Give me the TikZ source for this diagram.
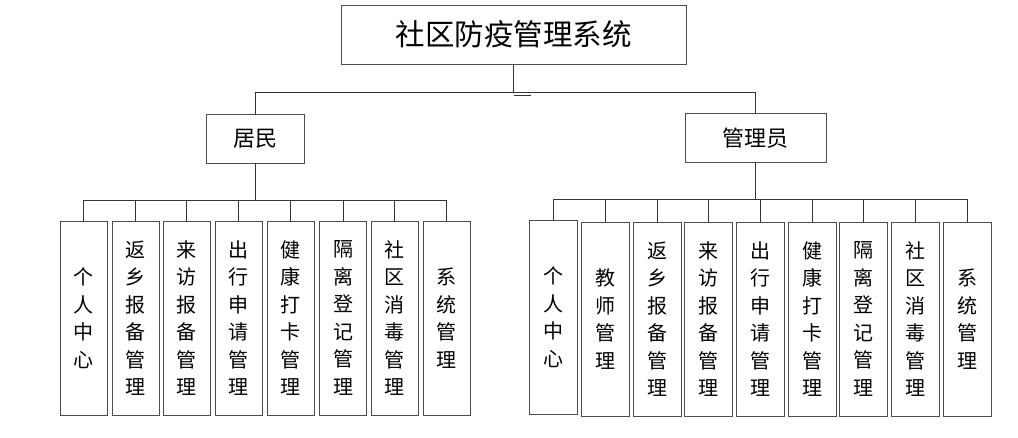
\documentclass[tikz,border=0pt]{standalone}
\usepackage{fontspec}
\newfontfamily\cjk{Noto Sans CJK SC}
\begin{document}
\begin{tikzpicture}[x=1pt,y=-1pt,
  box/.style={draw=black!70,line width=0.9pt,fill=white,inner sep=0pt,align=center,text=black},
  leaf/.style={box,minimum width=47pt,minimum height=194pt,font=\cjk\fontsize{20}{27.5}\selectfont},
  mid/.style={box,minimum height=49pt,font=\cjk\fontsize{22}{24}\selectfont},
  wire/.style={draw=black!80,line width=0.8pt}]
\useasboundingbox (0,0) rectangle (1018,438);
% root
\node[box,minimum width=345pt,minimum height=59pt,font=\cjk\fontsize{29.5}{32}\selectfont] (root) at (513.5,34.5) {社区防疫管理系统};
\node[mid,minimum width=98pt] (res) at (255,138.5) {居民};
\node[mid,minimum width=141pt] (adm) at (755.5,138) {管理员};
\coordinate (bus0) at (0,92);
\coordinate (busL) at (0,200);
\coordinate (busR) at (0,199);
% left leaves
\node[leaf] (l1) at (83.5,318) {个\\人\\中\\心};
\node[leaf] (l2) at (135.5,318) {返\\乡\\报\\备\\管\\理};
\node[leaf] (l3) at (186.5,318) {来\\访\\报\\备\\管\\理};
\node[leaf] (l4) at (238.5,318) {出\\行\\申\\请\\管\\理};
\node[leaf] (l5) at (290.5,318) {健\\康\\打\\卡\\管\\理};
\node[leaf] (l6) at (343,318) {隔\\离\\登\\记\\管\\理};
\node[leaf] (l7) at (394.5,318) {社\\区\\消\\毒\\管\\理};
\node[leaf] (l8) at (446.5,318) {系\\统\\管\\理};
% right leaves
\node[leaf,minimum width=48pt] (r1) at (553,317) {个\\人\\中\\心};
\node[leaf,minimum width=48pt] (r2) at (605,319) {教\\师\\管\\理};
\node[leaf,minimum width=48pt] (r3) at (657,319) {返\\乡\\报\\备\\管\\理};
\node[leaf,minimum width=48pt] (r4) at (708.5,319) {来\\访\\报\\备\\管\\理};
\node[leaf,minimum width=48pt] (r5) at (760.5,319) {出\\行\\申\\请\\管\\理};
\node[leaf,minimum width=48pt] (r6) at (812,319) {健\\康\\打\\卡\\管\\理};
\node[leaf,minimum width=48pt] (r7) at (863.5,319) {隔\\离\\登\\记\\管\\理};
\node[leaf,minimum width=48pt] (r8) at (915.5,319) {社\\区\\消\\毒\\管\\理};
\node[leaf,minimum width=48pt] (r9) at (967,319) {系\\统\\管\\理};
% top connectors
\draw[wire] (root.south) -- (root.south |- bus0);
\draw[wire] (root.south |- 0,95) -- ++(17,0);
\draw[wire] (res.north |- bus0) -- (adm.north |- bus0);
\draw[wire] (res.north) -- (res.north |- bus0);
\draw[wire] (adm.north) -- (adm.north |- bus0);
% left connectors
\draw[wire] (res.south) -- (res.south |- busL);
\draw[wire] (l1.north |- busL) -- (l8.north |- busL);
\foreach \n in {l1,l2,l3,l4,l5,l6,l7,l8} \draw[wire] (\n.north) -- (\n.north |- busL);
% right connectors
\draw[wire] (adm.south) -- (adm.south |- busR);
\draw[wire] (r1.north |- busR) -- (r9.north |- busR);
\foreach \n in {r1,r2,r3,r4,r5,r6,r7,r8,r9} \draw[wire] (\n.north) -- (\n.north |- busR);
\end{tikzpicture}
\end{document}
